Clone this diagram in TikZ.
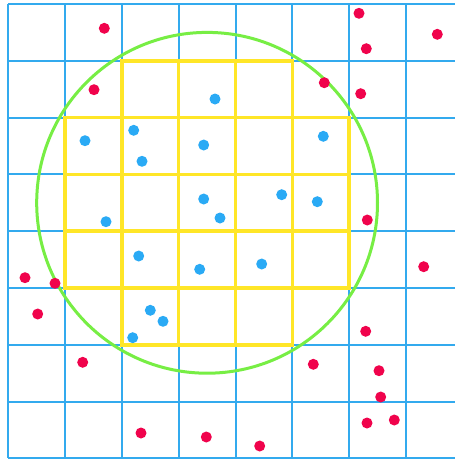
\documentclass[tikz,border=0pt]{standalone}
\definecolor{gridblue}{HTML}{33AAEE}
\definecolor{cellyellow}{HTML}{FFE628}
\definecolor{ringgreen}{HTML}{77EE44}
\definecolor{dotred}{HTML}{F0034C}
\definecolor{dotblue}{HTML}{2AAAF5}
\begin{document}
\begin{tikzpicture}[x=1pt,y=-1pt,
  gridline/.style={draw=gridblue,line width=2pt},
  yellowline/.style={draw=cellyellow,line width=3.5pt},
  ring/.style={draw=ringgreen,line width=3pt},
  reddot/.style={fill=dotred},
  bluedot/.style={fill=dotblue}]
\useasboundingbox (0,0) rectangle (455,459);
\clip (0,0) rectangle (455,459);
\fill[white] (0,0) rectangle (455,459);
% blue grid
\foreach \i in {0,...,8}
  \draw[gridline] ({8.3+\i*56.8},4) -- ({8.3+\i*56.8},458.4);
\foreach \j in {0,...,8}
  \draw[gridline] (8.3,{4+\j*56.8}) -- (470,{4+\j*56.8});
% yellow cells
\foreach \c/\r in {2/1,3/1,4/1,
  1/2,2/2,3/2,4/2,5/2,
  1/3,2/3,3/3,4/3,5/3,
  1/4,2/4,3/4,4/4,5/4,
  2/5,3/5,4/5}
  \draw[yellowline] ({8.3+\c*56.8},{4+\r*56.8}) rectangle +(56.8,56.8);
% circle
\draw[ring] (207.1,202.8) circle[radius=170.4pt];
% red dots
\foreach \x/\y in {104.3/28.3, 359/13.3, 366.3/48.7, 437.3/34.3, 94/89.7,
  324.3/82.7, 360.7/93.7, 367.3/220, 25/277.7, 55/283.3, 423.7/266.7,
  37.7/314, 365.7/331.3, 82.7/362.3, 313.3/364.3, 379/370.7, 380.7/397,
  367/423, 394.3/420, 141/433, 206.3/437, 259.7/446}
  \fill[reddot] (\x,\y) circle[radius=5.5pt];
% blue dots
\foreach \x/\y in {215/99, 133.7/130.3, 85/140.7, 203.7/145, 323.3/136.3,
  142/161.3, 203.7/199, 281.7/194.7, 317.3/201.7, 220/218, 106/221.7,
  138.7/256, 199.7/269.3, 261.7/264, 150.3/310.3, 163/321.3, 132.7/337.7}
  \fill[bluedot] (\x,\y) circle[radius=5.5pt];
\end{tikzpicture}
\end{document}
